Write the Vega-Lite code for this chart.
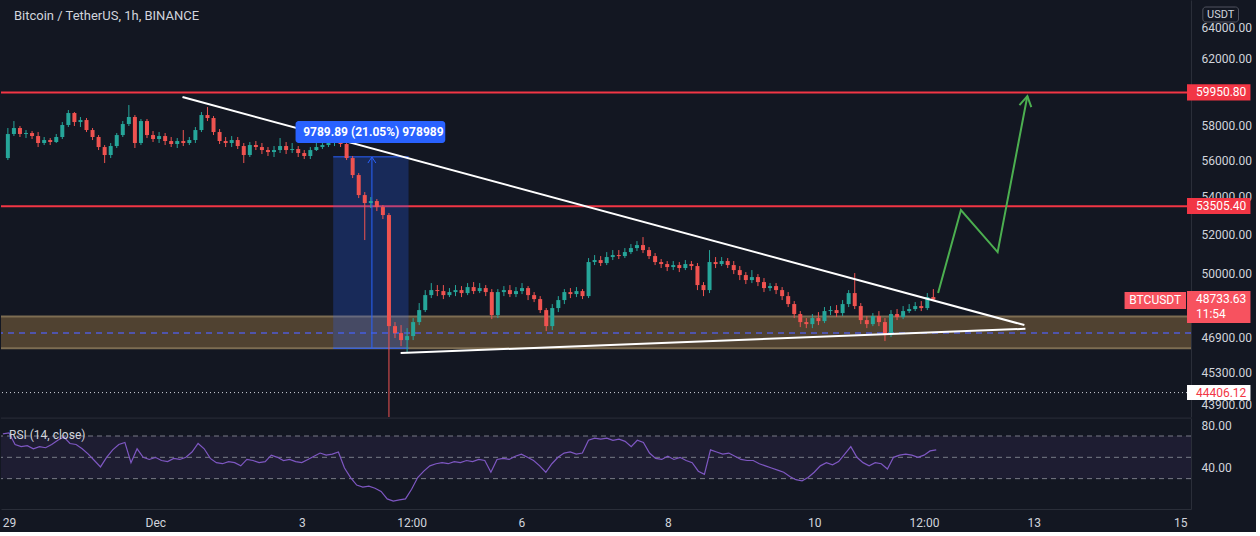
{
"$schema":"https://vega.github.io/schema/vega-lite/v6.json",
"background":"#131722",
"padding":{"left":0,"top":0,"right":4,"bottom":4},
"spacing":0,
"config":{"view":{"stroke":null},"font":"Roboto","axis":{"ticks":false,"grid":false,"labelColor":"#d1d4dc","labelFontSize":12,"labelFont":"Roboto","domainColor":"#2a2e39"}},
"datasets":{"k":[
{"t":"2021-11-28T22:00Z","o":56142,"h":57852,"l":56030,"c":57506,"r":72},
{"t":"2021-11-29T00:00Z","o":57506,"h":58258,"l":57391,"c":57852,"r":73},
{"t":"2021-11-29T02:00Z","o":57852,"h":57968,"l":57334,"c":57506,"r":62},
{"t":"2021-11-29T04:00Z","o":57506,"h":57736,"l":57276,"c":57563,"r":60},
{"t":"2021-11-29T06:00Z","o":57563,"h":57678,"l":57219,"c":57391,"r":61},
{"t":"2021-11-29T08:00Z","o":57391,"h":57621,"l":56763,"c":56991,"r":58},
{"t":"2021-11-29T10:00Z","o":56991,"h":57334,"l":56877,"c":57162,"r":60},
{"t":"2021-11-29T12:00Z","o":57162,"h":57276,"l":56877,"c":57048,"r":59},
{"t":"2021-11-29T14:00Z","o":57048,"h":57506,"l":56991,"c":57334,"r":62},
{"t":"2021-11-29T16:00Z","o":57334,"h":58200,"l":57219,"c":58026,"r":66},
{"t":"2021-11-29T18:00Z","o":58026,"h":58902,"l":57910,"c":58726,"r":69},
{"t":"2021-11-29T20:00Z","o":58726,"h":58784,"l":57968,"c":58200,"r":63},
{"t":"2021-11-29T22:00Z","o":58200,"h":58492,"l":57910,"c":58316,"r":62},
{"t":"2021-11-30T00:00Z","o":58316,"h":58433,"l":57621,"c":57736,"r":58},
{"t":"2021-11-30T02:00Z","o":57736,"h":57852,"l":57162,"c":57334,"r":53},
{"t":"2021-11-30T04:00Z","o":57334,"h":57448,"l":56593,"c":56763,"r":47},
{"t":"2021-11-30T06:00Z","o":56763,"h":56877,"l":55862,"c":56311,"r":41},
{"t":"2021-11-30T08:00Z","o":56311,"h":56991,"l":56142,"c":56820,"r":50},
{"t":"2021-11-30T10:00Z","o":56820,"h":57563,"l":56707,"c":57448,"r":57},
{"t":"2021-11-30T12:00Z","o":57448,"h":58258,"l":57334,"c":58084,"r":62},
{"t":"2021-11-30T14:00Z","o":58084,"h":59197,"l":57968,"c":58492,"r":64},
{"t":"2021-11-30T16:00Z","o":58492,"h":58609,"l":56707,"c":56991,"r":45},
{"t":"2021-11-30T18:00Z","o":56991,"h":58375,"l":56877,"c":58258,"r":58},
{"t":"2021-11-30T20:00Z","o":58258,"h":58375,"l":57276,"c":57448,"r":50},
{"t":"2021-11-30T22:00Z","o":57448,"h":57678,"l":57048,"c":57219,"r":48},
{"t":"2021-12-01T00:00Z","o":57219,"h":57621,"l":56991,"c":57391,"r":50},
{"t":"2021-12-01T02:00Z","o":57391,"h":57563,"l":56877,"c":57105,"r":47},
{"t":"2021-12-01T04:00Z","o":57105,"h":57334,"l":56763,"c":56934,"r":46},
{"t":"2021-12-01T06:00Z","o":56934,"h":57276,"l":56707,"c":57105,"r":49},
{"t":"2021-12-01T08:00Z","o":57105,"h":57736,"l":56820,"c":56991,"r":48},
{"t":"2021-12-01T10:00Z","o":56991,"h":57334,"l":56877,"c":57162,"r":50},
{"t":"2021-12-01T12:00Z","o":57162,"h":57910,"l":56991,"c":57736,"r":55},
{"t":"2021-12-01T14:00Z","o":57736,"h":58784,"l":57621,"c":58609,"r":63},
{"t":"2021-12-01T16:00Z","o":58609,"h":59079,"l":58258,"c":58433,"r":58},
{"t":"2021-12-01T18:00Z","o":58433,"h":58550,"l":57448,"c":57621,"r":49},
{"t":"2021-12-01T20:00Z","o":57621,"h":57794,"l":56934,"c":57105,"r":45},
{"t":"2021-12-01T22:00Z","o":57105,"h":57334,"l":56763,"c":56991,"r":44},
{"t":"2021-12-02T00:00Z","o":56991,"h":57391,"l":56763,"c":57162,"r":46},
{"t":"2021-12-02T02:00Z","o":57162,"h":57334,"l":56650,"c":56820,"r":45},
{"t":"2021-12-02T04:00Z","o":56820,"h":56991,"l":55862,"c":56311,"r":42},
{"t":"2021-12-02T06:00Z","o":56311,"h":57048,"l":56199,"c":56877,"r":48},
{"t":"2021-12-02T08:00Z","o":56877,"h":57105,"l":56593,"c":56763,"r":47},
{"t":"2021-12-02T10:00Z","o":56763,"h":56991,"l":56367,"c":56593,"r":45},
{"t":"2021-12-02T12:00Z","o":56593,"h":56763,"l":56255,"c":56480,"r":46},
{"t":"2021-12-02T14:00Z","o":56480,"h":56820,"l":56199,"c":56593,"r":52},
{"t":"2021-12-02T16:00Z","o":56593,"h":57276,"l":56424,"c":56820,"r":50},
{"t":"2021-12-02T18:00Z","o":56820,"h":57048,"l":56367,"c":56593,"r":47},
{"t":"2021-12-02T20:00Z","o":56593,"h":56991,"l":56424,"c":56650,"r":48},
{"t":"2021-12-02T22:00Z","o":56650,"h":56820,"l":56199,"c":56424,"r":46},
{"t":"2021-12-03T00:00Z","o":56424,"h":56593,"l":56086,"c":56255,"r":45},
{"t":"2021-12-03T02:00Z","o":56255,"h":56763,"l":56086,"c":56593,"r":48},
{"t":"2021-12-03T04:00Z","o":56593,"h":56991,"l":56537,"c":56763,"r":51},
{"t":"2021-12-03T06:00Z","o":56763,"h":57105,"l":56650,"c":56877,"r":54},
{"t":"2021-12-03T08:00Z","o":56877,"h":57276,"l":56763,"c":56991,"r":52},
{"t":"2021-12-03T10:00Z","o":56991,"h":57391,"l":56820,"c":57162,"r":53},
{"t":"2021-12-03T12:00Z","o":57162,"h":57334,"l":56763,"c":56934,"r":55},
{"t":"2021-12-03T14:00Z","o":56934,"h":57048,"l":56030,"c":56142,"r":40},
{"t":"2021-12-03T16:00Z","o":56142,"h":56255,"l":55030,"c":55195,"r":31},
{"t":"2021-12-03T18:00Z","o":55195,"h":55306,"l":53940,"c":54102,"r":24},
{"t":"2021-12-03T20:00Z","o":54102,"h":54265,"l":51722,"c":53672,"r":22},
{"t":"2021-12-03T22:00Z","o":53672,"h":53994,"l":53404,"c":53779,"r":23},
{"t":"2021-12-04T00:00Z","o":53779,"h":53886,"l":53244,"c":53458,"r":21},
{"t":"2021-12-04T02:00Z","o":53458,"h":53565,"l":52820,"c":53032,"r":18},
{"t":"2021-12-04T04:00Z","o":53032,"h":53138,"l":42000,"c":47459,"r":11},
{"t":"2021-12-04T06:00Z","o":47459,"h":47650,"l":46894,"c":47129,"r":9},
{"t":"2021-12-04T08:00Z","o":47129,"h":47507,"l":46520,"c":46800,"r":10},
{"t":"2021-12-04T10:00Z","o":46800,"h":47364,"l":46241,"c":46988,"r":11},
{"t":"2021-12-04T12:00Z","o":46988,"h":47841,"l":46800,"c":47650,"r":20},
{"t":"2021-12-04T14:00Z","o":47650,"h":48564,"l":47507,"c":48225,"r":31},
{"t":"2021-12-04T16:00Z","o":48225,"h":49199,"l":48129,"c":48953,"r":37},
{"t":"2021-12-04T18:00Z","o":48953,"h":49545,"l":48807,"c":49199,"r":42},
{"t":"2021-12-04T20:00Z","o":49199,"h":49446,"l":48904,"c":49150,"r":44},
{"t":"2021-12-04T22:00Z","o":49150,"h":49446,"l":48758,"c":48953,"r":45},
{"t":"2021-12-05T00:00Z","o":48953,"h":49298,"l":48856,"c":49101,"r":44},
{"t":"2021-12-05T02:00Z","o":49101,"h":49446,"l":48904,"c":49199,"r":46},
{"t":"2021-12-05T04:00Z","o":49199,"h":49396,"l":48856,"c":49052,"r":45},
{"t":"2021-12-05T06:00Z","o":49052,"h":49545,"l":48953,"c":49347,"r":47},
{"t":"2021-12-05T08:00Z","o":49347,"h":49595,"l":49003,"c":49150,"r":46},
{"t":"2021-12-05T10:00Z","o":49150,"h":49545,"l":49052,"c":49298,"r":48},
{"t":"2021-12-05T12:00Z","o":49298,"h":49446,"l":48904,"c":49101,"r":47},
{"t":"2021-12-05T14:00Z","o":49101,"h":49248,"l":47793,"c":47985,"r":36},
{"t":"2021-12-05T16:00Z","o":47985,"h":49248,"l":47841,"c":49101,"r":48},
{"t":"2021-12-05T18:00Z","o":49101,"h":49396,"l":48904,"c":49199,"r":49},
{"t":"2021-12-05T20:00Z","o":49199,"h":49446,"l":48856,"c":49003,"r":48},
{"t":"2021-12-05T22:00Z","o":49003,"h":49347,"l":48856,"c":49150,"r":51},
{"t":"2021-12-06T00:00Z","o":49150,"h":49545,"l":49003,"c":49298,"r":53},
{"t":"2021-12-06T02:00Z","o":49298,"h":49396,"l":48710,"c":48953,"r":50},
{"t":"2021-12-06T04:00Z","o":48953,"h":49101,"l":48613,"c":48758,"r":47},
{"t":"2021-12-06T06:00Z","o":48758,"h":48904,"l":48081,"c":48225,"r":42},
{"t":"2021-12-06T08:00Z","o":48225,"h":48322,"l":47223,"c":47459,"r":36},
{"t":"2021-12-06T10:00Z","o":47459,"h":48516,"l":47270,"c":48322,"r":44},
{"t":"2021-12-06T12:00Z","o":48322,"h":48904,"l":48129,"c":48710,"r":50},
{"t":"2021-12-06T14:00Z","o":48710,"h":49248,"l":48516,"c":49101,"r":54},
{"t":"2021-12-06T16:00Z","o":49101,"h":49298,"l":48807,"c":49003,"r":55},
{"t":"2021-12-06T18:00Z","o":49003,"h":49347,"l":48856,"c":49150,"r":53},
{"t":"2021-12-06T20:00Z","o":49150,"h":49248,"l":48758,"c":48904,"r":54},
{"t":"2021-12-06T22:00Z","o":48904,"h":50800,"l":48807,"c":50597,"r":66},
{"t":"2021-12-07T00:00Z","o":50597,"h":50952,"l":50445,"c":50698,"r":68},
{"t":"2021-12-07T02:00Z","o":50698,"h":50901,"l":50395,"c":50547,"r":67},
{"t":"2021-12-07T04:00Z","o":50547,"h":51105,"l":50445,"c":50851,"r":68},
{"t":"2021-12-07T06:00Z","o":50851,"h":51207,"l":50698,"c":50952,"r":66},
{"t":"2021-12-07T08:00Z","o":50952,"h":51207,"l":50749,"c":50901,"r":67},
{"t":"2021-12-07T10:00Z","o":50901,"h":51310,"l":50800,"c":51105,"r":65},
{"t":"2021-12-07T12:00Z","o":51105,"h":51516,"l":51003,"c":51310,"r":60},
{"t":"2021-12-07T14:00Z","o":51310,"h":51670,"l":51156,"c":51464,"r":66},
{"t":"2021-12-07T16:00Z","o":51464,"h":51877,"l":51054,"c":51207,"r":64},
{"t":"2021-12-07T18:00Z","o":51207,"h":51361,"l":50749,"c":50901,"r":54},
{"t":"2021-12-07T20:00Z","o":50901,"h":51054,"l":50445,"c":50597,"r":49},
{"t":"2021-12-07T22:00Z","o":50597,"h":50749,"l":50295,"c":50496,"r":48},
{"t":"2021-12-08T00:00Z","o":50496,"h":50648,"l":50143,"c":50345,"r":51},
{"t":"2021-12-08T02:00Z","o":50345,"h":50648,"l":50193,"c":50445,"r":48},
{"t":"2021-12-08T04:00Z","o":50445,"h":50597,"l":50093,"c":50295,"r":50},
{"t":"2021-12-08T06:00Z","o":50295,"h":50698,"l":50193,"c":50496,"r":47},
{"t":"2021-12-08T08:00Z","o":50496,"h":50648,"l":50193,"c":50395,"r":45},
{"t":"2021-12-08T10:00Z","o":50395,"h":50547,"l":49199,"c":49446,"r":37},
{"t":"2021-12-08T12:00Z","o":49446,"h":49595,"l":48904,"c":49199,"r":34},
{"t":"2021-12-08T14:00Z","o":49199,"h":51207,"l":49052,"c":50597,"r":57},
{"t":"2021-12-08T16:00Z","o":50597,"h":50851,"l":50295,"c":50496,"r":55},
{"t":"2021-12-08T18:00Z","o":50496,"h":50851,"l":50395,"c":50648,"r":53},
{"t":"2021-12-08T20:00Z","o":50648,"h":50800,"l":50295,"c":50445,"r":54},
{"t":"2021-12-08T22:00Z","o":50445,"h":50648,"l":49993,"c":50193,"r":51},
{"t":"2021-12-09T00:00Z","o":50193,"h":50395,"l":49694,"c":49943,"r":48},
{"t":"2021-12-09T02:00Z","o":49943,"h":50093,"l":49496,"c":49694,"r":47},
{"t":"2021-12-09T04:00Z","o":49694,"h":50193,"l":49545,"c":49843,"r":47},
{"t":"2021-12-09T06:00Z","o":49843,"h":49993,"l":49396,"c":49595,"r":44},
{"t":"2021-12-09T08:00Z","o":49595,"h":49794,"l":49101,"c":49298,"r":42},
{"t":"2021-12-09T10:00Z","o":49298,"h":49545,"l":49150,"c":49396,"r":40},
{"t":"2021-12-09T12:00Z","o":49396,"h":49545,"l":49003,"c":49199,"r":38},
{"t":"2021-12-09T14:00Z","o":49199,"h":49347,"l":48710,"c":48904,"r":36},
{"t":"2021-12-09T16:00Z","o":48904,"h":49101,"l":48371,"c":48516,"r":32},
{"t":"2021-12-09T18:00Z","o":48516,"h":48661,"l":47841,"c":48033,"r":29},
{"t":"2021-12-09T20:00Z","o":48033,"h":48177,"l":47412,"c":47650,"r":28},
{"t":"2021-12-09T22:00Z","o":47650,"h":47841,"l":47364,"c":47554,"r":31},
{"t":"2021-12-10T00:00Z","o":47554,"h":48033,"l":47364,"c":47841,"r":36},
{"t":"2021-12-10T02:00Z","o":47841,"h":48129,"l":47507,"c":47697,"r":42},
{"t":"2021-12-10T04:00Z","o":47697,"h":48371,"l":47602,"c":48177,"r":45},
{"t":"2021-12-10T06:00Z","o":48177,"h":48419,"l":47985,"c":48225,"r":43},
{"t":"2021-12-10T08:00Z","o":48225,"h":48467,"l":47889,"c":48081,"r":46},
{"t":"2021-12-10T10:00Z","o":48081,"h":48710,"l":47937,"c":48516,"r":53},
{"t":"2021-12-10T12:00Z","o":48516,"h":49199,"l":48371,"c":49052,"r":60},
{"t":"2021-12-10T14:00Z","o":49052,"h":50043,"l":48274,"c":48419,"r":50},
{"t":"2021-12-10T16:00Z","o":48419,"h":48564,"l":47554,"c":47745,"r":45},
{"t":"2021-12-10T18:00Z","o":47745,"h":47937,"l":47364,"c":47554,"r":42},
{"t":"2021-12-10T20:00Z","o":47554,"h":48081,"l":47459,"c":47937,"r":45},
{"t":"2021-12-10T22:00Z","o":47937,"h":48177,"l":47459,"c":47650,"r":44},
{"t":"2021-12-11T00:00Z","o":47650,"h":47841,"l":46754,"c":47035,"r":39},
{"t":"2021-12-11T02:00Z","o":47035,"h":48225,"l":46941,"c":48033,"r":50},
{"t":"2021-12-11T04:00Z","o":48033,"h":48274,"l":47745,"c":47889,"r":52},
{"t":"2021-12-11T06:00Z","o":47889,"h":48419,"l":47793,"c":48177,"r":53},
{"t":"2021-12-11T08:00Z","o":48177,"h":48516,"l":48081,"c":48274,"r":52},
{"t":"2021-12-11T10:00Z","o":48274,"h":48613,"l":48177,"c":48419,"r":50},
{"t":"2021-12-11T12:00Z","o":48419,"h":48661,"l":48177,"c":48322,"r":52},
{"t":"2021-12-11T14:00Z","o":48322,"h":49052,"l":48225,"c":48856,"r":56},
{"t":"2021-12-11T16:00Z","o":48856,"h":49248,"l":48661,"c":48733.63,"r":57}
]},
"vconcat":[
{"width":1190,"height":417,
 "resolve":{"axis":{"x":"independent","y":"independent"}},
 "layer":[
  {"data":{"values":[{"t":"2021-11-28T00:00Z","t2":"2021-12-16T00:00Z","p":46420,"p2":47920}]},
   "mark":{"type":"rect","clip":true,"color":"#8d6e3f","opacity":0.5},
   "encoding":{"x":{"field":"t","type":"temporal","scale":{"domain":[1638134580000,1639539120000],"nice":false},"axis":null},"x2":{"field":"t2"},
    "y":{"field":"p","type":"quantitative","scale":{"type":"log","domain":[43336,65752],"nice":false,"zero":false},
      "axis":{"orient":"right","title":null,"values":[64000,62000,58000,56000,54000,52000,50000,46900,45300,43900],"format":".2f","labelPadding":10,"labelBaseline":"middle"}},
    "y2":{"field":"p2"}}},
  {"data":{"values":[{"p":46420},{"p":47920}]},
   "mark":{"type":"rule","color":"#7d6d52","strokeWidth":2},
   "encoding":{"y":{"field":"p","type":"quantitative","scale":{"type":"log","domain":[43336,65752],"nice":false,"zero":false},"axis":null}}},
  {"data":{"values":[{"p":47130}]},
   "mark":{"type":"rule","color":"#4f5bd5","strokeWidth":1.5,"strokeDash":[6,5]},
   "encoding":{"y":{"field":"p","type":"quantitative","scale":{"type":"log","domain":[43336,65752],"nice":false,"zero":false},"axis":null}}},
  {"data":{"values":[{"p":44406.12}]},
   "mark":{"type":"rule","color":"#d1d4dc","strokeWidth":1,"strokeDash":[1,3]},
   "encoding":{"y":{"field":"p","type":"quantitative","scale":{"type":"log","domain":[43336,65752],"nice":false,"zero":false},"axis":null}}},
  {"data":{"values":[{"p":59950.8},{"p":53505.4}]},
   "mark":{"type":"rule","color":"#f23645","strokeWidth":2},
   "encoding":{"y":{"field":"p","type":"quantitative","scale":{"type":"log","domain":[43336,65752],"nice":false,"zero":false},"axis":null}}},
  {"data":{"values":[{"t":"2021-12-03T09:34Z","t2":"2021-12-04T10:29Z","p":46420,"p2":56210}]},
   "mark":{"type":"rect","color":"#2962ff","opacity":0.25},
   "encoding":{"x":{"field":"t","type":"temporal","axis":null},"x2":{"field":"t2"},"y":{"field":"p","type":"quantitative","scale":{"type":"log","domain":[43336,65752],"nice":false,"zero":false},"axis":null},"y2":{"field":"p2"}}},
  {"data":{"values":[{"t":"2021-12-03T09:34Z","t2":"2021-12-04T10:29Z","p":56210},{"t":"2021-12-03T09:34Z","t2":"2021-12-04T10:29Z","p":46420}]},
   "mark":{"type":"rule","color":"#2962ff","strokeWidth":1},
   "encoding":{"x":{"field":"t","type":"temporal","axis":null},"x2":{"field":"t2"},"y":{"field":"p","type":"quantitative","scale":{"type":"log","domain":[43336,65752],"nice":false,"zero":false},"axis":null}}},
  {"data":{"values":[{"g":"s","n":0,"t":"2021-12-03T22:22Z","p":46420},{"g":"s","n":1,"t":"2021-12-03T22:22Z","p":56199},{"g":"h","n":0,"t":"2021-12-03T21:03Z","p":55862},{"g":"h","n":1,"t":"2021-12-03T22:22Z","p":56199},{"g":"h","n":2,"t":"2021-12-03T23:40Z","p":55862}]},
   "mark":{"type":"line","color":"#2962ff","strokeWidth":1},
   "encoding":{"x":{"field":"t","type":"temporal","axis":null},"y":{"field":"p","type":"quantitative","scale":{"type":"log","domain":[43336,65752],"nice":false,"zero":false},"axis":null},"detail":{"field":"g"},"order":{"field":"n"}}},
  {"data":{"name":"k"},
   "mark":{"type":"rule","clip":true,"strokeWidth":1},
   "encoding":{"x":{"field":"t","type":"temporal","axis":null},"y":{"field":"h","type":"quantitative","scale":{"type":"log","domain":[43336,65752],"nice":false,"zero":false},"axis":null},"y2":{"field":"l"},
    "color":{"condition":{"test":"datum.c >= datum.o","value":"#26a69a"},"value":"#ef5350"}}},
  {"data":{"name":"k"},
   "mark":{"type":"bar","clip":true,"size":4},
   "encoding":{"x":{"field":"t","type":"temporal","axis":null},"y":{"field":"o","type":"quantitative","scale":{"type":"log","domain":[43336,65752],"nice":false,"zero":false},"axis":null},"y2":{"field":"c"},
    "color":{"condition":{"test":"datum.c >= datum.o","value":"#26a69a"},"value":"#ef5350"}}},
  {"data":{"values":[{"g":"u","n":0,"t":"2021-12-01T07:44Z","p":59672},{"g":"u","n":1,"t":"2021-12-12T22:06Z","p":47507},{"g":"d","n":0,"t":"2021-12-04T07:52Z","p":46195},{"g":"d","n":1,"t":"2021-12-12T22:26Z","p":47331}]},
   "mark":{"type":"line","color":"#ffffff","strokeWidth":2},
   "encoding":{"x":{"field":"t","type":"temporal","axis":null},"y":{"field":"p","type":"quantitative","scale":{"type":"log","domain":[43336,65752],"nice":false,"zero":false},"axis":null},"detail":{"field":"g"},"order":{"field":"n"}}},
  {"data":{"values":[{"g":"a","n":0,"t":"2021-12-11T17:34Z","p":49052},{"g":"a","n":1,"t":"2021-12-12T01:07Z","p":53297},{"g":"a","n":2,"t":"2021-12-12T13:15Z","p":51105},{"g":"a","n":3,"t":"2021-12-12T23:05Z","p":59731},{"g":"b","n":0,"t":"2021-12-12T20:28Z","p":59197},{"g":"b","n":1,"t":"2021-12-12T23:05Z","p":59731},{"g":"b","n":2,"t":"2021-12-13T00:23Z","p":59079}]},
   "mark":{"type":"line","color":"#4caf50","strokeWidth":2},
   "encoding":{"x":{"field":"t","type":"temporal","axis":null},"y":{"field":"p","type":"quantitative","scale":{"type":"log","domain":[43336,65752],"nice":false,"zero":false},"axis":null},"detail":{"field":"g"},"order":{"field":"n"}}},
  {"data":{"values":[{"t":"2021-12-02T21:07Z","t2":"2021-12-04T22:37Z","p":56991,"p2":58258}]},
   "mark":{"type":"rect","color":"#2962ff","cornerRadius":3},
   "encoding":{"x":{"field":"t","type":"temporal","axis":null},"x2":{"field":"t2"},"y":{"field":"p","type":"quantitative","scale":{"type":"log","domain":[43336,65752],"nice":false,"zero":false},"axis":null},"y2":{"field":"p2"}}},
  {"data":{"values":[{"t":"2021-12-03T22:51Z","p":57621,"s":"9789.89 (21.05%) 978989"}]},
   "mark":{"type":"text","color":"#ffffff","fontSize":12,"fontWeight":"bold","align":"center","baseline":"middle"},
   "encoding":{"x":{"field":"t","type":"temporal","axis":null},"y":{"field":"p","type":"quantitative","scale":{"type":"log","domain":[43336,65752],"nice":false,"zero":false},"axis":null},"text":{"field":"s"}}},
  {"data":{"values":[{"t":"2021-11-29T00:00Z","p":64708,"s":"Bitcoin / TetherUS, 1h, BINANCE"}]},
   "mark":{"type":"text","color":"#d1d4dc","fontSize":13,"align":"left","baseline":"middle"},
   "encoding":{"x":{"field":"t","type":"temporal","axis":null},"y":{"field":"p","type":"quantitative","scale":{"type":"log","domain":[43336,65752],"nice":false,"zero":false},"axis":null},"text":{"field":"s"}}},
  {"data":{"values":[
    {"t":"2021-12-15T03:52Z","t2":"2021-12-16T00:51Z","p":59470,"p2":60440,"k":"a"},
    {"t":"2021-12-15T03:52Z","t2":"2021-12-16T00:51Z","p":53085,"p2":53940,"k":"a"},
    {"t":"2021-12-15T03:52Z","t2":"2021-12-16T00:51Z","p":47602,"p2":49150,"k":"b"},
    {"t":"2021-12-14T07:13Z","t2":"2021-12-15T03:32Z","p":48274,"p2":49101,"k":"b"},
    {"t":"2021-12-15T03:52Z","t2":"2021-12-16T00:51Z","p":44082,"p2":44742,"k":"w"}]},
   "mark":{"type":"rect"},
   "encoding":{"x":{"field":"t","type":"temporal","axis":null},"x2":{"field":"t2"},"y":{"field":"p","type":"quantitative","scale":{"type":"log","domain":[43336,65752],"nice":false,"zero":false},"axis":null},"y2":{"field":"p2"},
    "color":{"field":"k","type":"nominal","scale":{"domain":["a","b","w"],"range":["#f23645","#f7525f","#ffffff"]},"legend":null}}},
  {"data":{"values":[{"t":"2021-12-15T09:06Z","t2":"2021-12-15T20:54Z","p":64321,"p2":65293}]},
   "mark":{"type":"rect","fill":"#131722","stroke":"#50535e","strokeWidth":1,"cornerRadius":3},
   "encoding":{"x":{"field":"t","type":"temporal","axis":null},"x2":{"field":"t2"},"y":{"field":"p","type":"quantitative","scale":{"type":"log","domain":[43336,65752],"nice":false,"zero":false},"axis":null},"y2":{"field":"p2"}}},
  {"data":{"values":[
    {"t":"2021-12-15T06:49Z","p":59950.8,"s":"59950.80","k":"w"},
    {"t":"2021-12-15T06:49Z","p":53505.4,"s":"53505.40","k":"w"},
    {"t":"2021-12-15T06:49Z","p":48758,"s":"48733.63","k":"w"},
    {"t":"2021-12-15T06:49Z","p":48033,"s":"11:54","k":"w"},
    {"t":"2021-12-15T06:49Z","p":44406.12,"s":"44406.12","k":"d"}]},
   "mark":{"type":"text","fontSize":12,"align":"left","baseline":"middle"},
   "encoding":{"x":{"field":"t","type":"temporal","axis":null},"y":{"field":"p","type":"quantitative","scale":{"type":"log","domain":[43336,65752],"nice":false,"zero":false},"axis":null},"text":{"field":"s"},
    "color":{"field":"k","type":"nominal","scale":{"domain":["w","d"],"range":["#ffffff","#131722"]},"legend":null}}},
  {"data":{"values":[{"t":"2021-12-14T17:22Z","p":48710,"s":"BTCUSDT"}]},
   "mark":{"type":"text","fontSize":12,"align":"center","baseline":"middle","color":"#ffffff"},
   "encoding":{"x":{"field":"t","type":"temporal","axis":null},"y":{"field":"p","type":"quantitative","scale":{"type":"log","domain":[43336,65752],"nice":false,"zero":false},"axis":null},"text":{"field":"s"}}},
  {"data":{"values":[{"t":"2021-12-15T15:00Z","p":64805,"s":"USDT"}]},
   "mark":{"type":"text","fontSize":11,"align":"center","baseline":"middle","color":"#d1d4dc"},
   "encoding":{"x":{"field":"t","type":"temporal","axis":null},"y":{"field":"p","type":"quantitative","scale":{"type":"log","domain":[43336,65752],"nice":false,"zero":false},"axis":null},"text":{"field":"s"}}}
 ]},
{"width":1190,"height":91,
 "resolve":{"axis":{"x":"independent","y":"independent"}},
 "layer":[
  {"data":{"values":[{"t":"2021-11-28T00:00Z","t2":"2021-12-16T00:00Z","p":30,"p2":70}]},
   "mark":{"type":"rect","clip":true,"color":"#7e57c2","opacity":0.1},
   "encoding":{"x":{"field":"t","type":"temporal","scale":{"domain":[1638134580000,1639539120000],"nice":false},
      "axis":{"orient":"bottom","title":null,"labelPadding":8,"labelFlush":false,"labelOverlap":false,
        "values":[{"year":2021,"month":11,"date":29,"utc":true},{"year":2021,"month":12,"date":1,"utc":true},{"year":2021,"month":12,"date":3,"utc":true},{"year":2021,"month":12,"date":4,"hours":12,"utc":true},{"year":2021,"month":12,"date":6,"utc":true},{"year":2021,"month":12,"date":8,"utc":true},{"year":2021,"month":12,"date":10,"utc":true},{"year":2021,"month":12,"date":11,"hours":12,"utc":true},{"year":2021,"month":12,"date":13,"utc":true},{"year":2021,"month":12,"date":15,"utc":true}],
        "labelExpr":"utchours(datum.value) == 12 ? '12:00' : (utcdate(datum.value) == 1 ? 'Dec' : '' + utcdate(datum.value))"}},
    "x2":{"field":"t2"},
    "y":{"field":"p","type":"quantitative","scale":{"domain":[1.5,86.9],"nice":false,"zero":false},"axis":{"orient":"right","title":null,"values":[80,40],"format":".2f","labelPadding":10,"labelBaseline":"middle"}},
    "y2":{"field":"p2"}}},
  {"data":{"values":[{"p":70},{"p":50},{"p":30}]},
   "mark":{"type":"rule","color":"#787b86","strokeWidth":1,"strokeDash":[5,4]},
   "encoding":{"y":{"field":"p","type":"quantitative","scale":{"domain":[1.5,86.9],"nice":false,"zero":false},"axis":null}}},
  {"data":{"values":[{"p":86.8}]},
   "mark":{"type":"rule","color":"#2a2e39","strokeWidth":1},
   "encoding":{"y":{"field":"p","type":"quantitative","scale":{"domain":[1.5,86.9],"nice":false,"zero":false},"axis":null}}},
  {"data":{"name":"k"},
   "mark":{"type":"line","color":"#7e57c2","strokeWidth":1.2},
   "encoding":{"x":{"field":"t","type":"temporal","axis":null},"y":{"field":"r","type":"quantitative","scale":{"domain":[1.5,86.9],"nice":false,"zero":false},"axis":null}}},
  {"data":{"values":[{"t":"2021-11-29T00:00Z","p":71,"s":"RSI (14, close)"}]},
   "mark":{"type":"text","color":"#d1d4dc","fontSize":12,"align":"left","baseline":"middle"},
   "encoding":{"x":{"field":"t","type":"temporal","axis":null},"y":{"field":"p","type":"quantitative","scale":{"domain":[1.5,86.9],"nice":false,"zero":false},"axis":null},"text":{"field":"s"}}}
 ]}
]
}
